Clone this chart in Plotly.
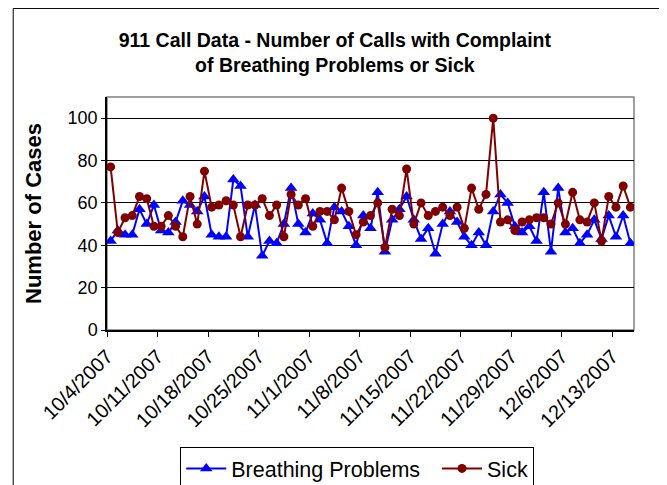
import pandas as pd
import plotly.graph_objects as go

start_date = "2007-10-04"
breathing = [42, 47, 45, 45, 57, 50, 59, 47, 46, 51, 61, 59, 56, 63, 45, 44, 44, 71, 68, 44,
             59, 35, 42, 41, 50, 67, 50, 46, 55, 52, 41, 58, 56, 49, 40, 54, 48, 65, 37, 52,
             57, 63, 52, 43, 48, 36, 50, 56, 51, 44, 40, 46, 40, 56, 64, 60, 49, 46, 49, 42,
             65, 37, 67, 46, 48, 41, 45, 52, 43, 54, 44, 54, 41]
sick = [77, 46, 53, 54, 63, 62, 49, 49, 54, 49, 44, 63, 50, 75, 58, 59, 61, 59, 44, 59,
        59, 62, 54, 59, 44, 64, 59, 62, 49, 56, 56, 52, 67, 56, 45, 51, 54, 60, 39, 57,
        54, 76, 50, 60, 54, 56, 58, 54, 58, 48, 67, 57, 64, 100, 51, 52, 47, 51, 52, 53,
        53, 50, 60, 50, 65, 52, 51, 60, 42, 63, 58, 68, 58]
tick_dates = ["2007-10-04", "2007-10-11", "2007-10-18", "2007-10-25", "2007-11-01", "2007-11-08",
              "2007-11-15", "2007-11-22", "2007-11-29", "2007-12-06", "2007-12-13"]
tick_labels = ["10/4/2007", "10/11/2007", "10/18/2007", "10/25/2007", "11/1/2007", "11/8/2007",
               "11/15/2007", "11/22/2007", "11/29/2007", "12/6/2007", "12/13/2007"]

# points sit in the middle of each day slot (Excel "between tick marks")
dates = pd.date_range(start_date, periods=len(sick), freq="D") + pd.Timedelta(hours=12)

fig = go.Figure()
fig.add_trace(go.Scatter(x=dates, y=breathing, name="Breathing Problems\u00a0\u00a0", mode="lines+markers",
                         line=dict(color="#0000FF", width=2),
                         marker=dict(symbol="triangle-up", size=11, color="#0000FF")))
fig.add_trace(go.Scatter(x=dates, y=sick, name="Sick", mode="lines+markers",
                         line=dict(color="#800000", width=2),
                         marker=dict(symbol="circle", size=9, color="#800000")))

font_family = "Liberation Sans, Arial, sans-serif"
# page body has an 8px margin, so the figure is sized to fill the rest of the window
fig.update_layout(
    width=659, height=477,
    margin=dict(l=99, r=33, t=89, b=155, autoexpand=False),
    paper_bgcolor="white", plot_bgcolor="white",
    font=dict(family=font_family, color="black"),
    title=dict(text="<b>911 Call Data - Number of Calls with Complaint<br>of Breathing Problems or Sick</b>",
               x=0.496, xanchor="center", xref="container",
               y=0.919, yanchor="middle",
               font=dict(size=19.5, family=font_family)),
    showlegend=True,
    legend=dict(orientation="h", x=0.139, xanchor="left", y=-0.502, yanchor="top",
                bordercolor="black", borderwidth=1, bgcolor="white",
                font=dict(size=21.5, family=font_family), itemwidth=40,
                tracegroupgap=0),
    xaxis=dict(type="date", range=["2007-10-04", "2007-12-16"], automargin=False,
               tickmode="array", tickvals=tick_dates, ticktext=tick_labels,
               tickangle=-45, tickfont=dict(size=20),
               ticks="outside", ticklen=5, tickcolor="black",
               showline=True, linecolor="black", linewidth=1.5,
               showgrid=False, zeroline=False),
    yaxis=dict(range=[0, 110], tickvals=[0, 20, 40, 60, 80, 100], automargin=False,
               tickfont=dict(size=18), ticks="outside", ticklen=4, tickcolor="black",
               showline=True, linecolor="black", linewidth=1.5,
               showgrid=True, gridcolor="black", gridwidth=1, zeroline=False,
               title=dict(text="<b>Number of Cases</b>", font=dict(size=22), standoff=20)),
    shapes=[
        dict(type="rect", xref="paper", yref="paper", x0=0, x1=1, y0=0, y1=1,
             line=dict(color="#808080", width=1.5), layer="below"),
        dict(type="rect", xref="paper", yref="paper", x0=-0.178, x1=1.051, y0=-0.72, y1=1.38,
             line=dict(color="black", width=1), layer="below"),
    ],
)

fig.write_html("out.html")
